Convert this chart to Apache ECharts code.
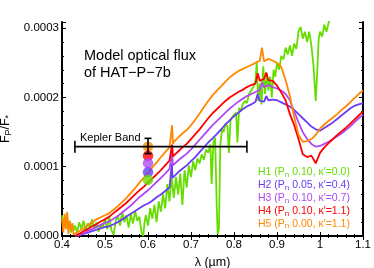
<!DOCTYPE html>
<html><head><meta charset="utf-8">
<script src="https://cdn.jsdelivr.net/npm/echarts@6/dist/echarts.min.js"></script>
<style>html,body{margin:0;padding:0;background:#fff}#c{width:374px;height:268px}</style>
</head><body><div id="c"></div>
<script>
// Flux ratio values below are in units of 1e-4 (pairs: [wavelength µm, Fp/F* / 1e-4])
const UNIT = 1e-4;
const xTicks = [0.4, 0.5, 0.6, 0.7, 0.8, 0.9, 1.0, 1.1];
const yTicks = [0, 1, 2, 3];

const h1 = [[0.400,0.30],[0.403,0.12],[0.406,0.25],[0.409,0.15],[0.412,0.28],[0.415,0.10],[0.418,0.22],[0.421,0.05],[0.424,0.18],[0.427,0.08],[0.430,0.15],[0.435,0.05],[0.440,0.20],[0.445,0.10],[0.450,0.22],[0.455,0.08],[0.460,0.18],[0.465,0.12],[0.470,0.24],[0.475,0.10],[0.480,0.20],[0.485,0.06],[0.490,0.17],[0.495,0.12],[0.500,0.25],[0.505,0.10],[0.510,0.28],[0.515,0.08],[0.520,0.02],[0.525,0.22],[0.530,0.30],[0.535,0.15],[0.540,0.35],[0.545,0.20],[0.550,0.30],[0.555,0.12],[0.560,0.32],[0.565,0.18],[0.570,0.36],[0.575,0.22],[0.580,0.28],[0.585,0.05],[0.589,0.00],[0.592,0.20],[0.595,0.30],[0.600,0.15],[0.605,0.40],[0.610,0.25],[0.615,0.45],[0.620,0.20],[0.625,0.50],[0.630,0.35],[0.635,0.60],[0.640,0.40],[0.645,0.75],[0.650,0.50],[0.655,0.85],[0.660,0.55],[0.665,0.85],[0.670,0.60],[0.675,0.90],[0.680,0.45],[0.685,0.95],[0.690,0.70],[0.695,1.02],[0.700,0.85],[0.705,1.08],[0.710,0.95],[0.715,1.12],[0.720,1.05],[0.725,1.18],[0.730,1.10],[0.735,1.25],[0.740,1.20],[0.745,1.32],[0.748,0.75],[0.752,1.35],[0.756,1.42],[0.760,0.40],[0.762,0.03],[0.765,0.10],[0.768,1.30],[0.772,1.55],[0.776,1.50],[0.780,1.62],[0.785,1.58],[0.788,1.20],[0.792,1.68],[0.796,1.72],[0.800,1.70],[0.805,1.78],[0.808,1.35],[0.812,1.85],[0.816,1.80],[0.820,1.90],[0.825,1.95],[0.830,1.92],[0.835,2.05],[0.840,2.10],[0.845,2.15],[0.850,2.25],[0.853,2.52],[0.856,1.95],[0.860,2.20],[0.864,1.90],[0.868,2.45],[0.872,2.05],[0.876,2.35],[0.880,2.10],[0.884,2.30],[0.888,2.00],[0.892,2.40],[0.896,2.30],[0.900,2.50],[0.905,2.40],[0.910,2.60],[0.915,2.55],[0.920,2.72],[0.925,2.62],[0.930,2.75],[0.935,2.60],[0.940,2.78],[0.945,2.70],[0.950,2.95],[0.955,3.02],[0.960,2.85],[0.965,2.95],[0.970,2.80],[0.975,2.95],[0.980,2.75],[0.985,2.45],[0.990,1.95],[0.993,2.30],[0.997,2.85],[1.000,2.95],[1.005,2.88],[1.010,3.05],[1.015,2.95],[1.020,3.08],[1.025,3.15],[1.030,3.20],[1.040,3.30],[1.060,3.40],[1.080,3.50],[1.100,3.60]];

const h2 = [[0.435,0.00],[0.44,0.01],[0.45,0.03],[0.46,0.05],[0.47,0.07],[0.48,0.09],[0.49,0.11],[0.50,0.13],[0.51,0.14],[0.52,0.17],[0.53,0.20],[0.54,0.24],[0.55,0.28],[0.56,0.32],[0.57,0.36],[0.58,0.40],[0.59,0.44],[0.60,0.47],[0.61,0.51],[0.62,0.56],[0.63,0.60],[0.64,0.65],[0.65,0.70],[0.654,0.72],[0.6555,1.05],[0.657,0.84],[0.66,0.86],[0.67,0.92],[0.68,0.97],[0.69,1.02],[0.70,1.08],[0.71,1.14],[0.72,1.21],[0.73,1.28],[0.74,1.35],[0.75,1.41],[0.76,1.47],[0.77,1.54],[0.78,1.61],[0.79,1.67],[0.80,1.73],[0.81,1.78],[0.82,1.83],[0.83,1.87],[0.84,1.90],[0.85,1.94],[0.855,2.05],[0.86,1.95],[0.87,1.94],[0.875,2.02],[0.88,1.96],[0.89,1.97],[0.90,1.96],[0.91,1.93],[0.92,1.90],[0.93,1.87],[0.94,1.82],[0.95,1.76],[0.96,1.70],[0.97,1.64],[0.98,1.58],[0.99,1.54],[1.00,1.52],[1.01,1.56],[1.02,1.60],[1.03,1.64],[1.04,1.69],[1.05,1.74],[1.06,1.79],[1.07,1.84],[1.08,1.88],[1.09,1.90],[1.10,1.92]];

const h3 = [[0.43,0.00],[0.44,0.02],[0.45,0.04],[0.46,0.07],[0.47,0.10],[0.48,0.13],[0.49,0.16],[0.50,0.19],[0.51,0.21],[0.52,0.25],[0.53,0.29],[0.54,0.34],[0.55,0.39],[0.56,0.44],[0.57,0.50],[0.58,0.56],[0.59,0.61],[0.60,0.66],[0.61,0.72],[0.62,0.78],[0.63,0.84],[0.64,0.90],[0.65,0.97],[0.654,0.99],[0.656,1.20],[0.658,1.02],[0.66,1.04],[0.67,1.09],[0.68,1.14],[0.69,1.19],[0.70,1.25],[0.71,1.32],[0.72,1.39],[0.73,1.46],[0.74,1.53],[0.75,1.60],[0.76,1.66],[0.77,1.72],[0.78,1.78],[0.79,1.84],[0.80,1.89],[0.81,1.94],[0.82,1.98],[0.83,2.02],[0.84,2.05],[0.85,2.08],[0.86,2.11],[0.865,2.22],[0.87,2.15],[0.88,2.18],[0.89,2.15],[0.90,2.13],[0.91,2.10],[0.92,2.05],[0.93,1.96],[0.94,1.80],[0.95,1.64],[0.96,1.50],[0.97,1.40],[0.98,1.33],[0.99,1.29],[1.00,1.30],[1.01,1.33],[1.02,1.36],[1.03,1.40],[1.04,1.44],[1.05,1.48],[1.06,1.53],[1.07,1.58],[1.08,1.64],[1.09,1.70],[1.10,1.75]];

const h4 = [[0.43,0.00],[0.44,0.03],[0.45,0.07],[0.46,0.10],[0.47,0.14],[0.48,0.17],[0.49,0.21],[0.50,0.24],[0.51,0.28],[0.52,0.33],[0.53,0.38],[0.54,0.43],[0.55,0.48],[0.56,0.54],[0.57,0.60],[0.58,0.66],[0.59,0.71],[0.60,0.77],[0.61,0.83],[0.62,0.89],[0.63,0.95],[0.64,1.02],[0.65,1.09],[0.654,1.11],[0.656,1.32],[0.658,1.15],[0.66,1.17],[0.67,1.22],[0.68,1.28],[0.69,1.33],[0.70,1.40],[0.71,1.47],[0.72,1.54],[0.73,1.62],[0.74,1.70],[0.75,1.77],[0.76,1.83],[0.77,1.89],[0.78,1.95],[0.79,2.00],[0.80,2.04],[0.81,2.08],[0.82,2.11],[0.83,2.15],[0.84,2.18],[0.85,2.20],[0.855,2.35],[0.86,2.24],[0.87,2.27],[0.875,2.36],[0.88,2.25],[0.89,2.24],[0.90,2.17],[0.91,2.07],[0.92,1.96],[0.93,1.76],[0.94,1.60],[0.95,1.40],[0.96,1.18],[0.97,1.14],[0.98,1.16],[0.99,1.05],[1.00,1.20],[1.01,1.28],[1.02,1.34],[1.03,1.40],[1.04,1.46],[1.05,1.51],[1.06,1.56],[1.07,1.62],[1.08,1.68],[1.09,1.74],[1.10,1.80]];

const h5 = [[0.400,0.25],[0.403,0.05],[0.406,0.32],[0.409,0.10],[0.412,0.35],[0.415,0.03],[0.418,0.22],[0.421,0.08],[0.424,0.18],[0.427,0.02],[0.43,0.03],[0.44,0.07],[0.45,0.11],[0.46,0.16],[0.47,0.20],[0.48,0.24],[0.49,0.27],[0.50,0.30],[0.51,0.33],[0.52,0.38],[0.53,0.43],[0.54,0.49],[0.55,0.55],[0.56,0.62],[0.57,0.69],[0.58,0.77],[0.59,0.84],[0.60,0.91],[0.61,0.99],[0.62,1.06],[0.63,1.14],[0.64,1.21],[0.65,1.28],[0.654,1.30],[0.656,1.60],[0.658,1.33],[0.66,1.36],[0.67,1.42],[0.68,1.48],[0.69,1.53],[0.70,1.60],[0.71,1.68],[0.72,1.77],[0.73,1.86],[0.74,1.95],[0.75,2.03],[0.76,2.10],[0.77,2.16],[0.78,2.23],[0.79,2.29],[0.80,2.34],[0.81,2.38],[0.82,2.41],[0.83,2.44],[0.84,2.47],[0.85,2.50],[0.86,2.53],[0.865,2.72],[0.87,2.52],[0.88,2.56],[0.89,2.53],[0.90,2.50],[0.91,2.44],[0.92,2.25],[0.93,2.02],[0.94,1.72],[0.95,1.46],[0.96,1.36],[0.97,1.37],[0.98,1.40],[0.99,1.46],[1.00,1.55],[1.01,1.61],[1.02,1.66],[1.03,1.71],[1.04,1.76],[1.05,1.82],[1.06,1.87],[1.07,1.93],[1.08,1.99],[1.09,2.05],[1.10,2.10]];

// Band-integrated model points at the Kepler band centre (order H5, H4, H3, H2, H1)
const bandWl = 0.6;
const bandVals = [1.29, 1.16, 1.05, 0.92, 0.81];
// Kepler band range and observed value with error bar
const keplerRange = [0.43, 0.83];
const keplerVal = 1.29;
const keplerErr = [1.19, 1.41];

const names = ['H1 (P', 'H2 (P', 'H3 (P', 'H4 (P', 'H5 (P'];
const legendTail = [' 0.10, κ′=0.0)', ' 0.05, κ′=0.4)', ' 0.10, κ′=0.7)', ' 0.10, κ′=1.1)', ' 0.00, κ′=1.1)'];
const colors = ['#66dd00', '#6a3cf5', '#b048f5', '#ff0000', '#ff8800'];

const FONT = 'Liberation Sans, Arial, Helvetica, sans-serif';
const scale = arr => arr.map(p => [p[0], p[1] * UNIT]);

const chart = echarts.init(document.getElementById('c'), null, {renderer: 'canvas'});

const lineSeries = [h1, h2, h3, h4, h5].map((d, i) => ({
  type: 'line', data: scale(d), showSymbol: false, symbol: 'none',
  lineStyle: {color: colors[i], width: 1.8}, itemStyle: {color: colors[i]},
  clip: true, silent: true, z: 2 + i
}));

const dotOrder = [4, 3, 2, 1, 0];
const dotSeries = {
  type: 'scatter', symbolSize: 10.5, z: 10, silent: true,
  data: bandVals.map((v, i) => ({value: [bandWl, v * UNIT], itemStyle: {color: colors[dotOrder[i]]}}))
};

const bandSeries = {
  type: 'custom', z: 20, silent: true,
  data: [[keplerRange[0], keplerRange[1], keplerVal * UNIT]],
  renderItem: (params, api) => {
    const a = api.coord([api.value(0), api.value(2)]);
    const b = api.coord([api.value(1), api.value(2)]);
    const st = {stroke: '#000', lineWidth: 1.6};
    return {type: 'group', children: [
      {type: 'line', shape: {x1: a[0], y1: a[1], x2: b[0], y2: b[1]}, style: st},
      {type: 'line', shape: {x1: a[0], y1: a[1] - 6, x2: a[0], y2: a[1] + 6}, style: st},
      {type: 'line', shape: {x1: b[0], y1: b[1] - 6, x2: b[0], y2: b[1] + 6}, style: st}
    ]};
  }
};

const errSeries = {
  type: 'custom', z: 21, silent: true,
  data: [[bandWl, keplerErr[0] * UNIT, keplerErr[1] * UNIT]],
  renderItem: (params, api) => {
    const lo = api.coord([api.value(0), api.value(1)]);
    const hi = api.coord([api.value(0), api.value(2)]);
    const st = {stroke: '#000', lineWidth: 1.6};
    return {type: 'group', children: [
      {type: 'line', shape: {x1: lo[0], y1: lo[1], x2: hi[0], y2: hi[1]}, style: st},
      {type: 'line', shape: {x1: lo[0] - 3.5, y1: lo[1], x2: lo[0] + 3.5, y2: lo[1]}, style: st},
      {type: 'line', shape: {x1: hi[0] - 3.5, y1: hi[1], x2: hi[0] + 3.5, y2: hi[1]}, style: st}
    ]};
  }
};

const axisCommon = {
  axisLine: {show: true, lineStyle: {color: '#000', width: 2}},
  axisTick: {show: true, inside: true, length: 4, lineStyle: {color: '#000', width: 1}},
  minorTick: {show: true, splitNumber: 5, length: 2, lineStyle: {color: '#000', width: 1}},
  splitLine: {show: false}, minorSplitLine: {show: false}
};

const legendRich = {};
const legendText = names.map((n, i) => {
  legendRich['t' + i] = {fontSize: 10.5, fontFamily: FONT, fill: colors[i], lineHeight: 12.8};
  legendRich['s' + i] = {fontSize: 8, fontFamily: FONT, fill: colors[i], lineHeight: 3, verticalAlign: 'bottom'};
  return '{t' + i + '|' + n + '}{s' + i + '|n}{t' + i + '|' + legendTail[i] + '}';
}).join('\n');

chart.setOption({
  animation: false,
  backgroundColor: '#fff',
  grid: {left: 62, right: 11, top: 22, bottom: 32, outerBoundsMode: 'none', containLabel: false},
  xAxis: [
    Object.assign({type: 'value', min: 0.4, max: 1.1, interval: 0.1, position: 'bottom',
      name: 'λ (µm)', nameLocation: 'middle', nameGap: 19,
      nameTextStyle: {fontSize: 12.5, fontFamily: FONT, color: '#000'},
      axisLabel: {fontSize: 11.5, fontFamily: FONT, color: '#000', margin: 3,
        formatter: v => String(Math.round(v * 10) / 10)}}, axisCommon),
    Object.assign({type: 'value', min: 0.4, max: 1.1, interval: 0.1, position: 'top',
      axisLabel: {show: false}}, axisCommon)
  ],
  yAxis: [
    Object.assign({type: 'value', min: 0, max: 3.09 * UNIT, interval: UNIT, position: 'left',
      name: '{a|F}{s|P}{a|/F}{s|*}', nameLocation: 'middle', nameGap: 49, nameRotate: 90,
      nameTextStyle: {fontFamily: FONT, color: '#000', rich: {
        a: {fontSize: 12.5, fontFamily: FONT, color: '#000', lineHeight: 14},
        s: {fontSize: 9, fontFamily: FONT, color: '#000', lineHeight: 3, verticalAlign: 'bottom'}}},
      axisLabel: {fontSize: 11.5, fontFamily: FONT, color: '#000', margin: 3,
        formatter: v => v.toFixed(4)}}, axisCommon),
    Object.assign({type: 'value', min: 0, max: 3.09 * UNIT, interval: UNIT, position: 'right',
      axisLabel: {show: false}}, axisCommon)
  ],
  series: lineSeries.concat([dotSeries, bandSeries, errSeries]),
  graphic: [
    {type: 'text', left: 84, top: 47, z: 30, silent: true,
      style: {text: 'Model optical flux\nof HAT−P−7b', fontSize: 14.5, lineHeight: 17.5, fontFamily: FONT, fill: '#000'}},
    {type: 'text', left: 80, top: 132, z: 30, silent: true,
      style: {text: 'Kepler Band', fontSize: 11, fontFamily: FONT, fill: '#000'}},
    {type: 'text', left: 258, top: 167, z: 30, silent: true,
      style: {text: legendText, rich: legendRich}}
  ]
});
</script></body></html>
